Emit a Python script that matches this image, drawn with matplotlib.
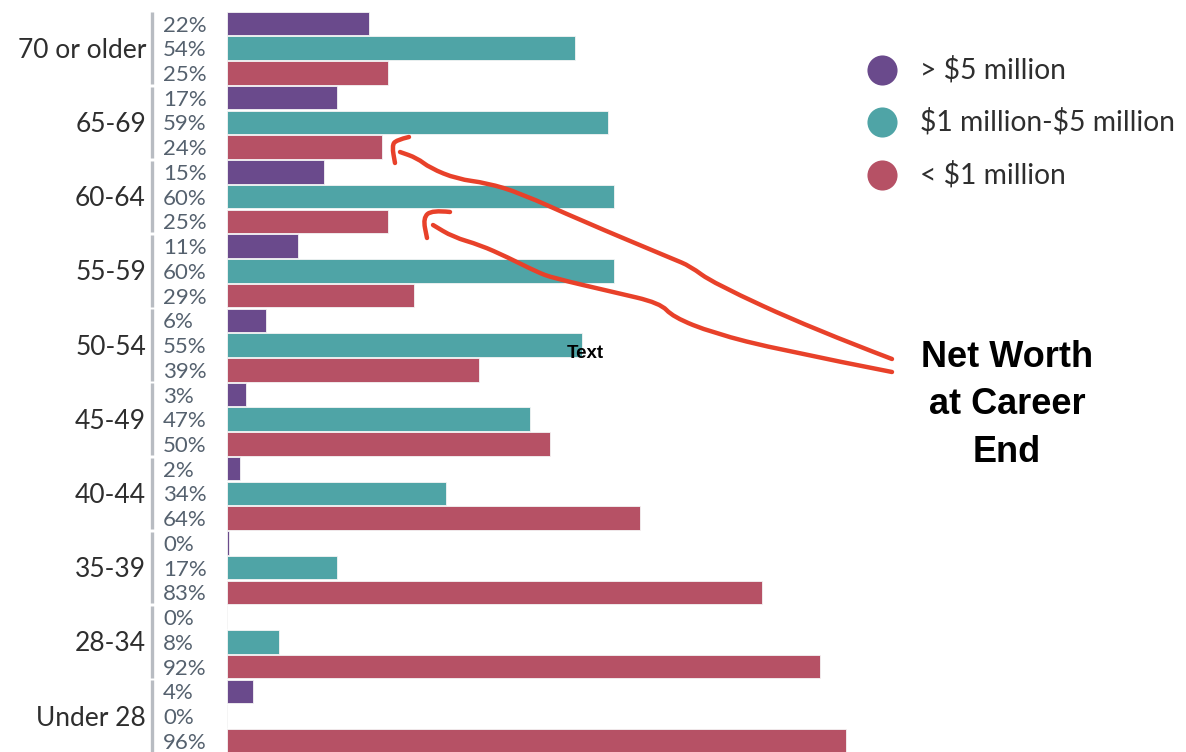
import matplotlib
matplotlib.use("Agg")
import matplotlib.pyplot as plt
from matplotlib.path import Path
from matplotlib.patches import PathPatch
from matplotlib.transforms import blended_transform_factory

groups = ['70 or older', '65-69', '60-64', '55-59', '50-54',
          '45-49', '40-44', '35-39', '28-34', 'Under 28']
over_5m = [22, 17, 15, 11, 6, 3, 2, 0.3, 0, 4]
mid_1to5m = [54, 59, 60, 60, 55, 47, 34, 17, 8, 0]
under_1m = [25, 24, 25, 29, 39, 50, 64, 83, 92, 96]

series_names = ['> $5 million', '$1 million-$5 million', '< $1 million']
colors = ['#6a4a8c', '#4fa4a6', '#b65165']

plt.rcParams['text.parse_math'] = False

W, H = 1186, 752
fig = plt.figure(figsize=(W / 100, H / 100), dpi=100)

# main bar axes spans the whole figure; x in percent, y in bar slots
px_per_pct = 6.45
x0 = 227
slot = 74.2 / 3
ax = fig.add_axes([0, 0, 1, 1])
ax.set_xlim(-x0 / px_per_pct, (W - x0) / px_per_pct)
ax.set_ylim((H - 23.5) / slot, -23.5 / slot)
ax.axis('off')

# overlay in pixel coordinates for annotations
ov = fig.add_axes([0, 0, 1, 1], zorder=5)
ov.set_xlim(0, W)
ov.set_ylim(H, 0)
ov.axis('off')
ov.patch.set_alpha(0)

pix_y = blended_transform_factory(ov.transData, ax.transData)
nudge = 2 / slot  # text sits a touch lower than bar centre

for k, vals in enumerate([over_5m, mid_1to5m, under_1m]):
    ys = [3 * g + k for g in range(len(groups))]
    ax.barh(ys, vals, height=0.95, color=colors[k], edgecolor='#f4f4f4', linewidth=0.6)
    for y, v in zip(ys, vals):
        ax.text(163, y + nudge, f"{v:.0f}%", transform=pix_y, ha='left', va='center',
                fontsize=16, family='Lato', color='#55616e')

for g, name in enumerate(groups):
    ax.text(146, 3 * g + 1 + nudge, name, transform=pix_y, ha='right', va='center',
            fontsize=19, family='Lato', color='#2e2e2e')
    ax.plot([152, 152], [3 * g - 0.45, 3 * g + 2.45], transform=pix_y,
            color='#b8bcc2', linewidth=2.4, solid_capstyle='butt')

# legend
leg_y = [70, 122, 175]
for name, c, y in zip(series_names, colors, leg_y):
    ov.scatter([882], [y], s=470, color=c, linewidths=0)
    ov.text(920, y, name, ha='left', va='center', fontsize=20.3,
            family='Lato', color='#2e2e2e')

# hand-drawn arrows
red = '#e8412a'


def smooth(pts):
    verts = [pts[0]]
    codes = [Path.MOVETO]
    for i in range(1, len(pts) - 1):
        mx = (pts[i][0] + pts[i + 1][0]) / 2
        my = (pts[i][1] + pts[i + 1][1]) / 2
        verts += [pts[i], (mx, my)]
        codes += [Path.CURVE3, Path.CURVE3]
    verts.append(pts[-1])
    codes.append(Path.LINETO)
    ov.add_patch(PathPatch(Path(verts, codes), fill=False, edgecolor=red,
                           linewidth=3.2, capstyle='round', joinstyle='round'))


smooth([(892, 359), (813, 329), (713, 283), (690, 266), (673, 259),
        (580, 220), (520, 193), (487, 183), (457, 179), (430, 168),
        (417, 158), (400, 152)])
smooth([(409, 137), (396, 140), (392, 146), (395, 163)])

smooth([(892, 372), (780, 350), (713, 333), (673, 317), (660, 303),
        (613, 292), (553, 278), (537, 272), (507, 257), (480, 245),
        (453, 237), (433, 225)])
smooth([(450, 212), (432, 210), (423, 218), (427, 238)])

ov.text(1007, 405, 'Net Worth\nat Career\nEnd', ha='center', va='center',
        fontsize=26, fontweight='bold', family='Liberation Sans',
        color='black', linespacing=1.46)
ov.text(585, 354, 'Text', ha='center', va='center', fontsize=13.5,
        fontweight='bold', family='Liberation Sans', color='black')

fig.savefig('out.png', dpi=100, facecolor='white')
